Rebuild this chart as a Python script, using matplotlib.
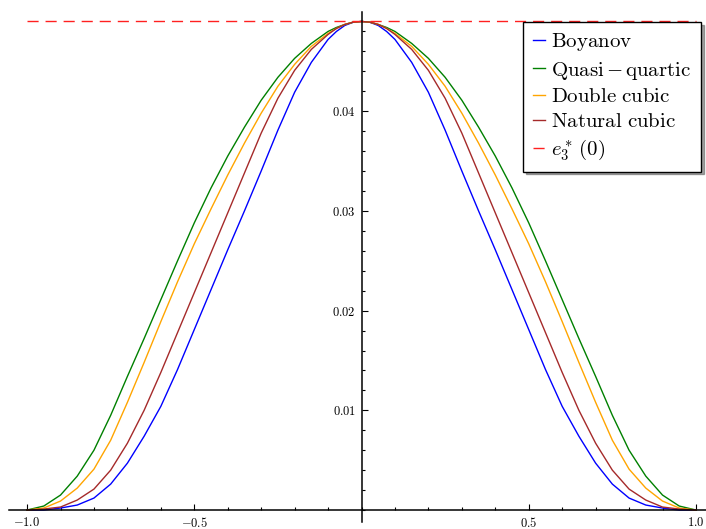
import numpy as np
import matplotlib.pyplot as plt
from matplotlib.ticker import MultipleLocator, FixedLocator, FuncFormatter

plt.rcParams['mathtext.fontset'] = 'cm'
plt.rcParams['font.family'] = 'serif'
plt.rcParams['font.serif'] = ['cmr10', 'DejaVu Serif']
plt.rcParams['axes.unicode_minus'] = False

# left half of the curves (they are symmetric about x = 0)
x_half = np.array([-1.0, -0.95, -0.9, -0.85, -0.8, -0.75, -0.7, -0.65, -0.6, -0.55, -0.5,
                   -0.45, -0.4, -0.35, -0.3, -0.25, -0.2, -0.15, -0.1, -0.075, -0.05, -0.025, 0.0])
boyanov = [0.0, 0.0000, 0.0002, 0.0005, 0.0012, 0.0026, 0.0047, 0.0074, 0.0104, 0.0141, 0.0181,
           0.0221, 0.0261, 0.0300, 0.0340, 0.0381, 0.0419, 0.0449, 0.0472, 0.0480, 0.0486, 0.04892, 0.0490]
quasi_quartic = [0.0, 0.0004, 0.0015, 0.0034, 0.0060, 0.0095, 0.0134, 0.0172, 0.0211, 0.0250, 0.0288,
                 0.0323, 0.0355, 0.0384, 0.0411, 0.0434, 0.0453, 0.0468, 0.0480, 0.0484, 0.0487, 0.04893, 0.0490]
double_cubic = [0.0, 0.0002, 0.0009, 0.0022, 0.0041, 0.0070, 0.0108, 0.0148, 0.0189, 0.0229, 0.0267,
                0.0302, 0.0336, 0.0368, 0.0398, 0.0425, 0.0447, 0.0465, 0.0478, 0.0483, 0.0487, 0.04893, 0.0490]
natural_cubic = [0.0, 0.0001, 0.0003, 0.0010, 0.0021, 0.0040, 0.0067, 0.0100, 0.0138, 0.0178, 0.0218,
                 0.0258, 0.0298, 0.0338, 0.0378, 0.0413, 0.0441, 0.0462, 0.0477, 0.0483, 0.0487, 0.04893, 0.0490]
e3_star = 0.049


def mirror(v):
    v = np.asarray(v)
    return np.concatenate([v, v[-2::-1]])


x = np.concatenate([x_half, -x_half[-2::-1]])

fig = plt.figure(figsize=(7.06, 5.29), dpi=100)
ax = fig.add_axes([9/706, 7/529, 697/706, 510/529])

ax.plot(x, mirror(boyanov), color='blue', lw=1.0, label=r'$\mathrm{Boyanov}$')
ax.plot(x, mirror(quasi_quartic), color='green', lw=1.0, label=r'$\mathrm{Quasi}\,{-}\,\mathrm{quartic}$')
ax.plot(x, mirror(double_cubic), color='orange', lw=1.0, label=r'$\mathrm{Double\ cubic}$')
ax.plot(x, mirror(natural_cubic), color='brown', lw=1.0, label=r'$\mathrm{Natural\ cubic}$')
ax.hlines(e3_star, x.min(), x.max(), colors='#ff2020', linestyles=(0, (8, 5)), lw=1.0,
          label=r'$e_3^*\,(0)$')

ax.set_xlim(-1.054, 1.03)
ax.set_ylim(-0.0012, 0.04995)

for s in ['top', 'right']:
    ax.spines[s].set_visible(False)
ax.spines['left'].set_position(('data', 0))
ax.spines['bottom'].set_position(('data', 0))
ax.spines['left'].set_linewidth(1.1)
ax.spines['bottom'].set_linewidth(1.1)

ax.xaxis.set_major_locator(FixedLocator([-1.0, -0.5, 0.5, 1.0]))
ax.xaxis.set_minor_locator(MultipleLocator(0.1))
ax.yaxis.set_major_locator(FixedLocator([0.01, 0.02, 0.03, 0.04]))
ax.yaxis.set_minor_locator(MultipleLocator(0.002))
ax.xaxis.set_major_formatter(FuncFormatter(lambda v, p: f'${v:.1f}$'))
ax.yaxis.set_major_formatter(FuncFormatter(lambda v, p: f'${v:.2f}$'))
ax.tick_params(which='major', direction='in', length=4.5, width=0.8, labelsize=9, pad=4)
ax.tick_params(which='minor', direction='in', length=2.5, width=0.8)

leg = ax.legend(loc='upper right', bbox_to_anchor=(701/706, 1 - 22/529),
                bbox_transform=fig.transFigure, fontsize=15, fancybox=False, shadow=True,
                handlelength=0.6, handletextpad=0.3, labelspacing=0.3, borderpad=0.45,
                borderaxespad=0)
leg.get_frame().set_edgecolor('black')
leg.get_frame().set_linewidth(1.0)

fig.savefig('out.png', dpi=100)
